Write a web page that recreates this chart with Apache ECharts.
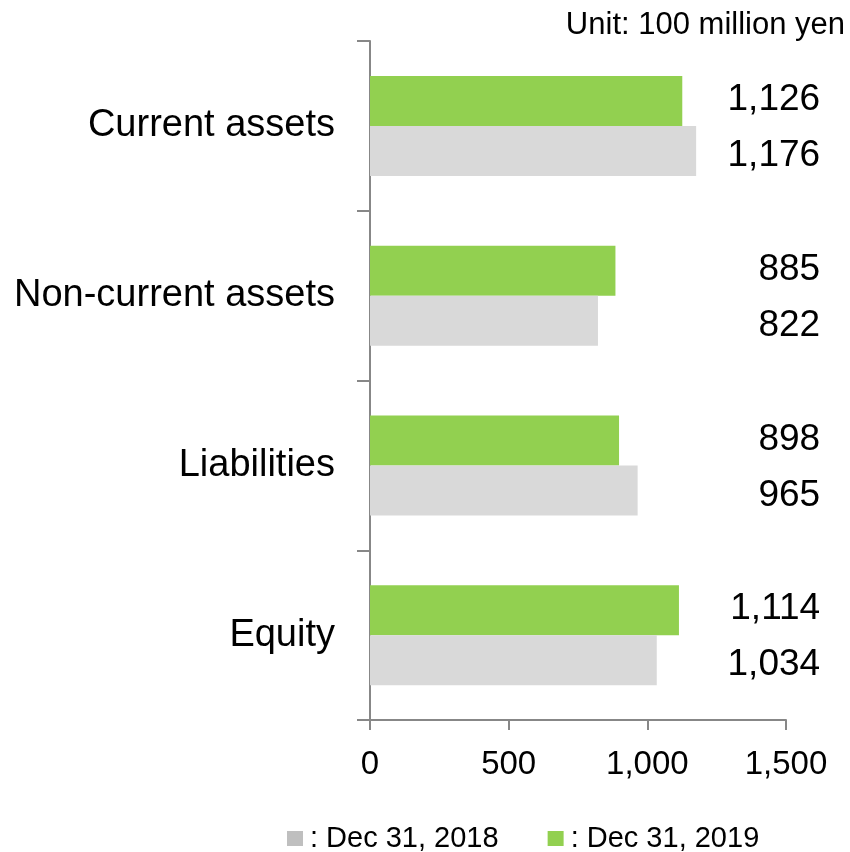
<!DOCTYPE html>
<html>
<head>
<meta charset="utf-8">
<script src="https://cdn.jsdelivr.net/npm/echarts@6/dist/echarts.min.js"></script>
<style>
  html, body { margin: 0; padding: 0; background: #fff; }
  #chart { width: 850px; height: 852px; }
</style>
</head>
<body>
<div id="chart"></div>
<script>
// data
const categories = ['Current assets', 'Non-current assets', 'Liabilities', 'Equity']
const values2018 = [1176, 822, 965, 1034]
const values2019 = [1126, 885, 898, 1114]
const xTicks = [0, 500, 1000, 1500]
const seriesNames = ['Dec 31, 2018', 'Dec 31, 2019']

const FONT = '"Liberation Sans", Arial, sans-serif'
const AXIS_COLOR = '#878787'
// value labels sit in a column right of the plot, right edge at ~x=820
const LABEL_X = 1623

const chart = echarts.init(document.getElementById('chart'), null, { renderer: 'canvas' })

const fmt = (v) => v.toLocaleString('en-US')

const labelSeries = (name, vals, dy) => ({
  name: name + ' label',
  type: 'scatter',
  clip: false,
  silent: true,
  symbolSize: 0,
  data: vals.map((v, i) => [LABEL_X, i, v]),
  encode: { x: 0, y: 1 },
  label: {
    show: true,
    position: 'left',
    distance: 0,
    offset: [0, dy],
    color: '#000000',
    opacity: 1,
    fontFamily: FONT,
    fontSize: 37,
    formatter: (p) => fmt(p.value[2])
  },
  z: 5
})

chart.setOption({
  animation: false,
  title: {
    text: 'Unit: 100 million yen',
    right: 5,
    top: 10,
    padding: 0,
    textStyle: { color: '#000', fontFamily: FONT, fontSize: 31, fontWeight: 'normal' }
  },
  legend: {
    left: 287,
    top: 824,
    padding: 0,
    itemWidth: 16,
    itemHeight: 15,
    itemGap: 49,
    icon: 'rect',
    textStyle: { color: '#000', fontFamily: FONT, fontSize: 29, padding: [0, 0, 0, 2] },
    formatter: (name) => ': ' + name,
    data: [
      { name: seriesNames[0], itemStyle: { color: '#bfbfbf' } },
      { name: seriesNames[1], itemStyle: { color: '#92d050' } }
    ]
  },
  grid: { left: 370, right: 64, top: 41, bottom: 132, containLabel: false },
  xAxis: {
    type: 'value',
    min: xTicks[0],
    max: xTicks[xTicks.length - 1],
    interval: xTicks[1] - xTicks[0],
    axisLine: { show: true, lineStyle: { color: AXIS_COLOR, width: 2 } },
    axisTick: { show: true, length: 10, lineStyle: { color: AXIS_COLOR, width: 2 } },
    splitLine: { show: false },
    axisLabel: {
      color: '#000',
      fontFamily: FONT,
      fontSize: 33,
      margin: 28,
      formatter: (v) => fmt(v)
    }
  },
  yAxis: {
    type: 'category',
    inverse: true,
    data: categories,
    axisLine: { show: true, lineStyle: { color: AXIS_COLOR, width: 2 } },
    axisTick: { show: true, length: 13, lineStyle: { color: AXIS_COLOR, width: 2 } },
    axisLabel: { color: '#000', fontFamily: FONT, fontSize: 38, margin: 35 }
  },
  series: [
    {
      name: seriesNames[1],
      type: 'bar',
      data: values2019,
      barWidth: 50,
      barGap: '0%',
      itemStyle: { color: '#92d050' }
    },
    {
      name: seriesNames[0],
      type: 'bar',
      data: values2018,
      barWidth: 50,
      barGap: '0%',
      itemStyle: { color: '#d9d9d9' }
    },
    labelSeries(seriesNames[1], values2019, -26),
    labelSeries(seriesNames[0], values2018, 30)
  ]
})
</script>
</body>
</html>
